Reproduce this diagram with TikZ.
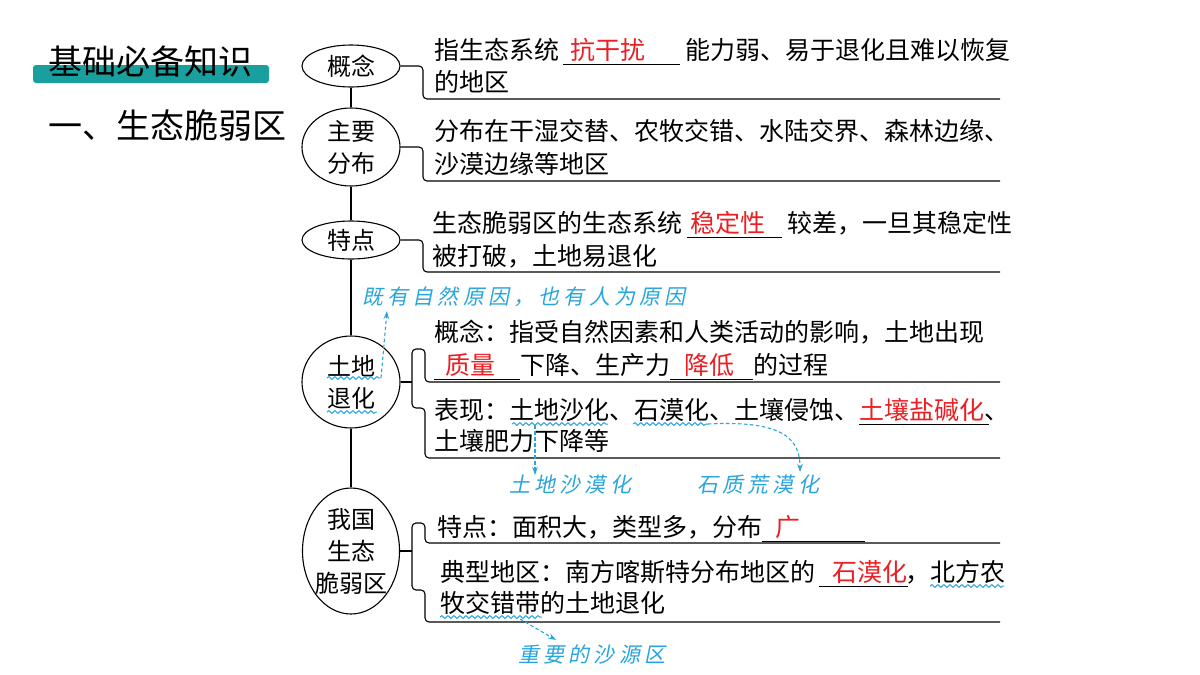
\documentclass[tikz,border=0pt]{standalone}
\usepackage{fontspec}
\setmainfont{Noto Sans CJK SC}
\newfontfamily\hand[FakeSlant=0.2,LetterSpace=20]{Noto Sans CJK SC}
\usetikzlibrary{shapes.geometric,decorations.pathmorphing,arrows.meta}
\definecolor{zred}{RGB}{235,30,35}
\definecolor{zblue}{RGB}{40,165,220}
\definecolor{zteal}{RGB}{25,160,158}
\newcommand\fillblank[3]{\makebox[0pt][l]{\rule[-5pt]{#1pt}{0.9pt}}\makebox[#1pt][l]{\hspace{#2pt}\textcolor{zred}{#3}}}
\begin{document}
\begin{tikzpicture}[x=1pt,y=-1pt,
  ell/.style={draw,ellipse,line width=1.1pt,inner sep=0pt},
  lbl/.style={font=\fontsize{24}{32}\selectfont,align=center,inner sep=0pt},
  txt/.style={anchor=base west,inner sep=0pt,font=\fontsize{25}{30}\selectfont},
  note/.style={anchor=west,inner sep=0pt,text=zblue,font=\hand\fontsize{21}{25}\selectfont},
  wav/.style={zblue,line width=1pt,decorate,decoration={snake,segment length=6pt,amplitude=1.4pt}},
  darr/.style={zblue,line width=1.1pt,dash pattern=on 3.5pt off 2.5pt,-{Stealth[length=8pt,width=5.5pt]}},
  ln/.style={line width=1.1pt,rounded corners=4pt}]
\useasboundingbox (0,0) rectangle (1200,675);
\fill[white] (0,0) rectangle (1200,675);

% title
\fill[zteal,rounded corners=3pt] (33,65) rectangle (269,83);
\node[anchor=west,inner sep=0pt,font=\fontsize{34}{40}\selectfont] (title) at (48,62) {基础必备知识};
\node[anchor=west,inner sep=0pt,font=\fontsize{34}{40}\selectfont] (sub) at (48,125) {一、生态脆弱区};

% ellipses
\node[ell,minimum width=98pt,minimum height=42pt,label={[lbl]center:概念}] (e1) at (351,66) {};
\node[ell,minimum width=98pt,minimum height=78pt,label={[lbl]center:主要\\分布}] (e2) at (351,147) {};
\node[ell,minimum width=98pt,minimum height=38pt,label={[lbl]center:特点}] (e3) at (351,240) {};
\node[ell,minimum width=98pt,minimum height=92pt,label={[lbl]center:土地\\退化}] (e4) at (351,382) {};
\node[ell,minimum width=97pt,minimum height=126pt,label={[lbl]center:我国\\生态\\脆弱区}] (e5) at (351,551) {};
\draw[line width=1.1pt] (e1) -- (e2) (e2) -- (e3) (e3) -- (e4) (e4) -- (e5);

% brackets
\coordinate (c1) at (423,99);  \coordinate (r1) at (1000,99);
\coordinate (c2) at (423,181); \coordinate (r2) at (1000,181);
\coordinate (c3) at (423,272); \coordinate (r3) at (1000,272);
\draw[ln] (e1.east) -| (c1) -- (r1);
\draw[ln] (e2.east) -| (c2) -- (r2);
\draw[ln] (e3.east) -| (c3) -- (r3);
\coordinate (s4) at (412,382);
\draw[line width=1.1pt] (e4.east) -- (s4);
\draw[ln] (1000,382) -- (425,382) -- (425,349) -- (412,349) -- (412,408) -- (425,408) -- (425,458) -- (1000,458);
\coordinate (s5) at (412,551);
\draw[line width=1.1pt] (e5.east) -- (s5);
\draw[ln] (1000,543) -- (425,543) -- (425,523) -- (412,523) -- (412,590) -- (425,590) -- (425,622) -- (1000,622);

% row 1
\node[txt] (t11) at (434,59.5) {指生态系统\hspace{4pt}\fillblank{117}{7}{抗干扰}\hspace{5pt}能力弱、易于退化且难以恢复};
\node[txt] (t12) at (434,91.5) {的地区};
% row 2
\node[txt] (t21) at (434,140.5) {分布在干湿交替、农牧交错、水陆交界、森林边缘、};
\node[txt] (t22) at (434,173.5) {沙漠边缘等地区};
% row 3
\node[txt] (t31) at (432,232.5) {生态脆弱区的生态系统\hspace{5pt}\fillblank{95}{3}{稳定性}\hspace{5pt}较差，一旦其稳定性};
\node[txt] (t32) at (432,265.5) {被打破，土地易退化};
% row 4
\node[txt] (t41) at (434,341.5) {概念：指受自然因素和人类活动的影响，土地出现};
\node[txt] (t42) at (434,374.5) {\fillblank{86}{11}{质量}下降、生产力\fillblank{83}{14}{降低}的过程};
\node[txt] (t43) at (434,419.5) {表现：土地沙化、石漠化、土壤侵蚀、\fillblank{130}{0}{土壤盐碱化}\hspace{-5pt}、};
\node[txt] (t44) at (434,450.5) {土壤肥力下降等};
% row 5
\node[txt] (t51) at (437,536.5) {特点：面积大，类型多，分布\fillblank{103}{13}{广}};
\node[txt] (t52) at (440,581.5) {典型地区：南方喀斯特分布地区的\hspace{4pt}\fillblank{89}{13}{石漠化}\hspace{-3pt}，北方农};
\node[txt] (t53) at (440,612.5) {牧交错带的土地退化};

% wavy underlines
\draw[wav] (327,378) -- (380,378);
\draw[wav] (327,412) -- (377,412);
\draw[wav] (512,424) -- (608,424);
\draw[wav] (633,424) -- (708,424);
\draw[wav] (930,586) -- (1004,586);
\draw[wav] (440,617) -- (542,617);

% blue notes
\node[note] (n1) at (362,297) {既有自然原因，也有人为原因};
\node[note] (n2) at (509,485) {土地沙漠化};
\node[note] (n3) at (697,485) {石质荒漠化};
\node[note] (n4) at (518,655) {重要的沙源区};

% dashed arrows
\coordinate (a1s) at (381,378); \coordinate (a1e) at (387,311);
\draw[darr] (a1s) -- (a1e);
\coordinate (a2s) at (535,425); \coordinate (a2e) at (535,475);
\draw[darr] (a2s) -- (a2e);
\coordinate (a3s) at (708,424); \coordinate (a3e) at (800,472);
\draw[darr] (a3s) .. controls (785,420) and (800,440) .. (a3e);
\coordinate (a4s) at (520,619); \coordinate (a4e) at (556,640);
\draw[darr] (a4s) -- (a4e);
\end{tikzpicture}
\end{document}
